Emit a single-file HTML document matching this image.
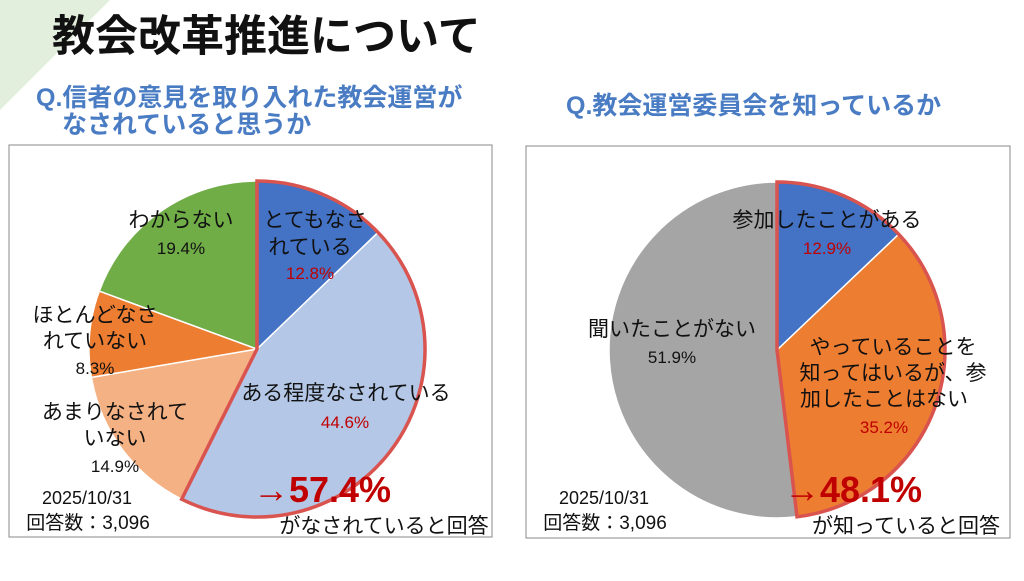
<!DOCTYPE html>
<html><head><meta charset="utf-8">
<style>
html,body{margin:0;padding:0;background:#fff;}
body{width:1024px;height:576px;overflow:hidden;position:relative;font-family:"Liberation Sans","Noto Sans CJK JP",sans-serif;}
svg text{font-family:"Liberation Sans","Noto Sans CJK JP",sans-serif;}
</style></head>
<body>
<svg id="s" width="1024" height="576" xmlns="http://www.w3.org/2000/svg">
<polygon points="0,0 110,0 0,110" fill="#e2efdc"/>
<text x="52" y="51" font-size="43" font-weight="bold" fill="#111">教会改革推進について</text>
<text x="36" y="106" font-size="25" font-weight="bold" fill="#4a7cc4">Q.信者の意見を取り入れた教会運営が</text>
<text x="62" y="133" font-size="25" font-weight="bold" fill="#4a7cc4">なされていると思うか</text>
<text x="566" y="114" font-size="25" font-weight="bold" fill="#4a7cc4">Q.教会運営委員会を知っているか</text>
<rect x="9" y="145" width="483" height="392" fill="#fff" stroke="#888" stroke-width="1"/>
<rect x="526" y="146" width="484" height="392" fill="#fff" stroke="#888" stroke-width="1"/>
<g id="left"></g>
<g id="right"></g>
</svg>
<script>
const leftCategories = ["とてもなされている","ある程度なされている","あまりなされていない","ほとんどなされていない","わからない"];
const leftValues = [12.8, 44.6, 14.9, 8.3, 19.4];
const leftColors = ["#4472c4","#b4c7e7","#f4b183","#ed7d31","#70ad47"];
const leftHighlightCount = 2;
const leftTotalLabel = "→57.4%";
const rightCategories = ["参加したことがある","やっていることを知ってはいるが、参加したことはない","聞いたことがない"];
const rightValues = [12.9, 35.2, 51.9];
const rightColors = ["#4472c4","#ed7d31","#a5a5a5"];
const rightHighlightCount = 2;
const rightTotalLabel = "→48.1%";

const NS="http://www.w3.org/2000/svg";
function mk(tag,attrs,parent){const e=document.createElementNS(NS,tag);for(const k in attrs)e.setAttribute(k,attrs[k]);parent.appendChild(e);return e;}
function pt(cx,cy,r,f){const a=f*2*Math.PI;return [cx+r*Math.sin(a),cy-r*Math.cos(a)];}
function arcPath(cx,cy,r,f0,f1){const [x0,y0]=pt(cx,cy,r,f0),[x1,y1]=pt(cx,cy,r,f1);const large=(f1-f0)>0.5?1:0;return `M${cx},${cy} L${x0},${y0} A${r},${r} 0 ${large} 1 ${x1},${y1} Z`;}
function drawPie(g,cx,cy,r,values,colors,hc,prefix){
  const tot=values.reduce((a,b)=>a+b,0);let acc=0;
  values.forEach((v,i)=>{const f0=acc/tot;acc+=v;const f1=acc/tot;
    const p=mk("path",{d:arcPath(cx,cy,r,f0,f1),fill:colors[i],stroke:"#fff","stroke-width":1.5},g);
    
    
  });
  let h=0;for(let i=0;i<hc;i++)h+=values[i];
  const o=mk("path",{d:arcPath(cx,cy,r,0,h/tot),fill:"none",stroke:"#d9534f","stroke-width":3.5,"stroke-linejoin":"miter"},g);
  
  
}
function txt(g,x,y,s,size,fill,name,weight){const t=mk("text",{x:x,y:y,"font-size":size,fill:fill,"text-anchor":"middle","font-weight":weight||"normal"},g);t.textContent=s;
  
  
  return t;}
const L=document.getElementById("left"),R=document.getElementById("right");
drawPie(L,257,349,168,leftValues,leftColors,leftHighlightCount,"left");
drawPie(R,777,350,168,rightValues,rightColors,rightHighlightCount,"right");
const fmt=v=>v.toFixed(1)+"%";
const LS=21, VS=17;
txt(L,315,227,"とてもなさ",LS,"#111","label-very");
txt(L,310,254,"れている",LS,"#111","label-very-2");
txt(L,310,279,fmt(leftValues[0]),VS,"#c00000","value-very");
txt(L,346,400,"ある程度なされている",LS,"#111","label-somewhat");
txt(L,345,428,fmt(leftValues[1]),VS,"#c00000","value-somewhat");
txt(L,115,419,"あまりなされて",LS,"#111","label-not-much");
txt(L,115,445,"いない",LS,"#111","label-not-much-2");
txt(L,115,472,fmt(leftValues[2]),VS,"#111","value-not-much");
txt(L,95,322,"ほとんどなさ",LS,"#111","label-hardly");
txt(L,95,348,"れていない",LS,"#111","label-hardly-2");
txt(L,95,374,fmt(leftValues[3]),VS,"#111","value-hardly");
txt(L,181,227,"わからない",LS,"#111","label-unknown");
txt(L,181,254,fmt(leftValues[4]),VS,"#111","value-unknown");
txt(L,322,502,leftTotalLabel,36,"#c00000","left-total","bold");
txt(L,384,533,"がなされていると回答",LS,"#111","left-total-caption");
txt(L,87,504,"2025/10/31",18,"#111","left-date");
txt(L,88,529,"回答数：3,096",19,"#111","left-count");
txt(R,827,227,"参加したことがある",LS,"#111","label-joined");
txt(R,827,254,fmt(rightValues[0]),VS,"#c00000","value-joined");
txt(R,893,354,"やっていることを",LS,"#111","label-know-1");
txt(R,893,380,"知ってはいるが、参",LS,"#111","label-know-2");
txt(R,884,406,"加したことはない",LS,"#111","label-know-3");
txt(R,884,433,fmt(rightValues[1]),VS,"#c00000","value-know");
txt(R,672,336,"聞いたことがない",LS,"#111","label-never");
txt(R,672,363,fmt(rightValues[2]),VS,"#111","value-never");
txt(R,853,502,rightTotalLabel,36,"#c00000","right-total","bold");
txt(R,906,533,"が知っていると回答",LS,"#111","right-total-caption");
txt(R,604,504,"2025/10/31",18,"#111","right-date");
txt(R,605,529,"回答数：3,096",19,"#111","right-count");
</script>
</body></html>
